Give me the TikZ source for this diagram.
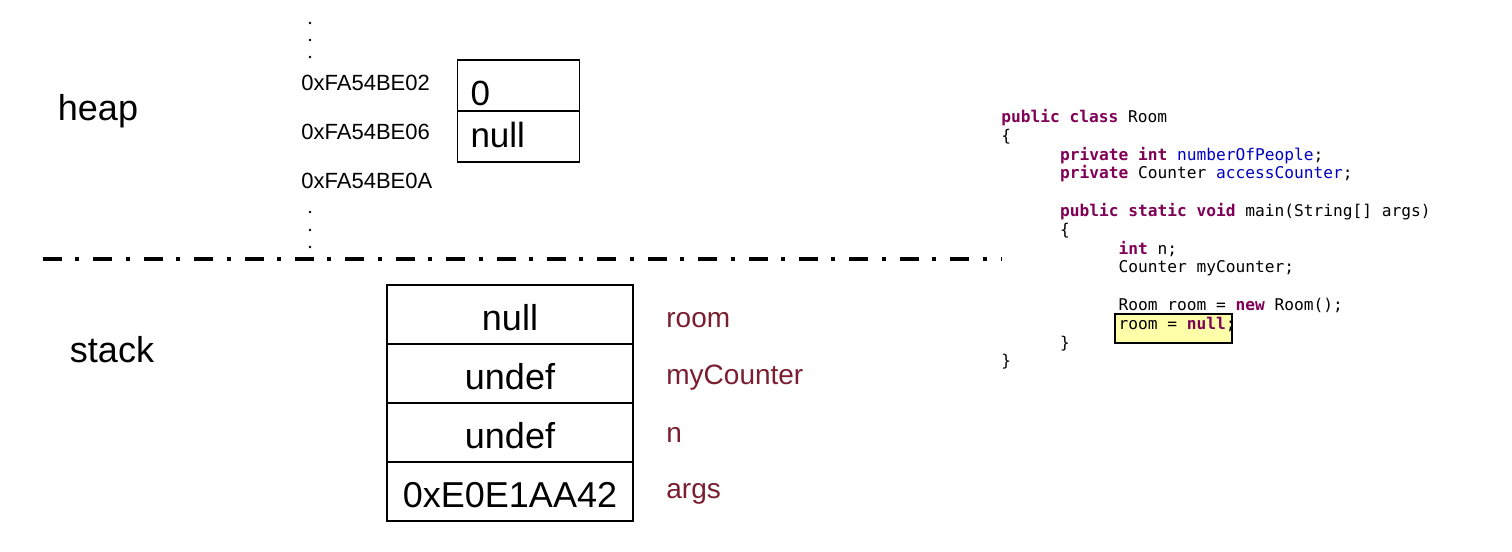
\documentclass[tikz,border=0pt]{standalone}
\usepackage{fontspec}
\setmainfont{Liberation Sans}
\setmonofont{DejaVu Sans Mono}
\usetikzlibrary{positioning}
\definecolor{varred}{HTML}{7A1E30}
\definecolor{kwpurple}{HTML}{7F0055}
\definecolor{fieldblue}{HTML}{0000C0}
\definecolor{hiyellow}{HTML}{FFFFAA}
\newcommand{\kw}[1]{\textbf{\color{kwpurple}#1}}
\newcommand{\fld}[1]{\textcolor{fieldblue}{#1}}
\newcommand{\codeind}{\hspace*{29.3pt}}
\tikzstyle{region} = [font=\fontsize{18}{20}\selectfont]
\tikzstyle{address} = [anchor=west, inner sep=0pt, font=\fontsize{11}{13}\selectfont]
\tikzstyle{heapcell} = [rectangle, draw, line width=0.6pt, outer sep=0pt, text width=48pt, inner xsep=6.5pt, align=left, text height=10.5pt, text depth=0pt, minimum height=25.5pt, font=\fontsize{17.5}{19}\selectfont]
\tikzstyle{stackcell} = [rectangle, draw, line width=0.6pt, outer sep=0pt, text centered, text height=16pt, text depth=0pt, minimum width=123pt, minimum height=29.5pt, font=\fontsize{18}{20}\selectfont]
\tikzstyle{varname} = [anchor=base west, inner sep=0pt, text=varred, font=\fontsize{14}{16}\selectfont]
\tikzstyle{divider} = [line width=2pt, dash pattern=on 9.5pt off 6.7pt on 2pt off 7pt]
\tikzstyle{codetext} = [align=left, inner sep=0pt, font=\ttfamily\fontsize{8.1}{9.4}\selectfont]
\tikzstyle{hibox} = [rectangle, draw, line width=0.6pt, fill=hiyellow, minimum width=58.5pt, minimum height=14.5pt]

\begin{document}
\begin{tikzpicture}[x=1pt, y=1pt]
        \useasboundingbox (0,0) rectangle (756,-276);
        \node (heap) [region] at (49,-55.5) {heap};
        \node (stack) [region] at (56,-175) {stack};
        % heap addresses
        \foreach \y in {-11.5,-20,-28.5,-106,-115,-123.5}
            \fill (155,\y) circle (0.7pt);
        \node (addr02) [address] at (150.5,-41.5) {0xFA54BE02};
        \node (addr06) [address] at (150.5,-65.75) {0xFA54BE06};
        \node (addr0A) [address] at (150.5,-90.25) {0xFA54BE0A};
        \node (hint) [heapcell] at (259.25,-42.75) {\raisebox{-4.5pt}{0}};
        \node (hnull) [heapcell, below=0pt of hint] {null};
        % stack frame
        \node (sroom) [stackcell] at (255,-157.25) {null};
        \node (scounter) [stackcell, below=0pt of sroom] {undef};
        \node (sn) [stackcell, below=0pt of scounter] {undef};
        \node (sargs) [stackcell, below=0pt of sn] {0xE0E1AA42};
        \node (lroom) [varname] at (333,-163.5) {room};
        \node (lcounter) [varname] at (333,-192) {myCounter};
        \node (ln) [varname] at (333,-221) {n};
        \node (largs) [varname] at (333,-249) {args};
        \coordinate (divl) at (21.5,-129.5);
        \coordinate (divr) at (501,-129.5);
        \draw [divider] (divl) -- (divr);
        % source code
        \node (hilite) [hibox] at (586.75,-164.25) {};
        \node (code) [codetext, anchor=north west] at (500.5,-54.5) {
            \kw{public} \kw{class} Room\\
            \{\\
            \codeind\kw{private} \kw{int} \fld{numberOfPeople};\\
            \codeind\kw{private} Counter \fld{accessCounter};\\
            \mbox{}\\
            \codeind\kw{public} \kw{static} \kw{void} main(String[] args)\\
            \codeind\{\\
            \codeind\codeind\kw{int} n;\\
            \codeind\codeind Counter myCounter;\\
            \mbox{}\\
            \codeind\codeind Room room = \kw{new} Room();\\
            \codeind\codeind room = \kw{null};\\
            \codeind\}\\
            \}
        };
    \end{tikzpicture}
\end{document}
